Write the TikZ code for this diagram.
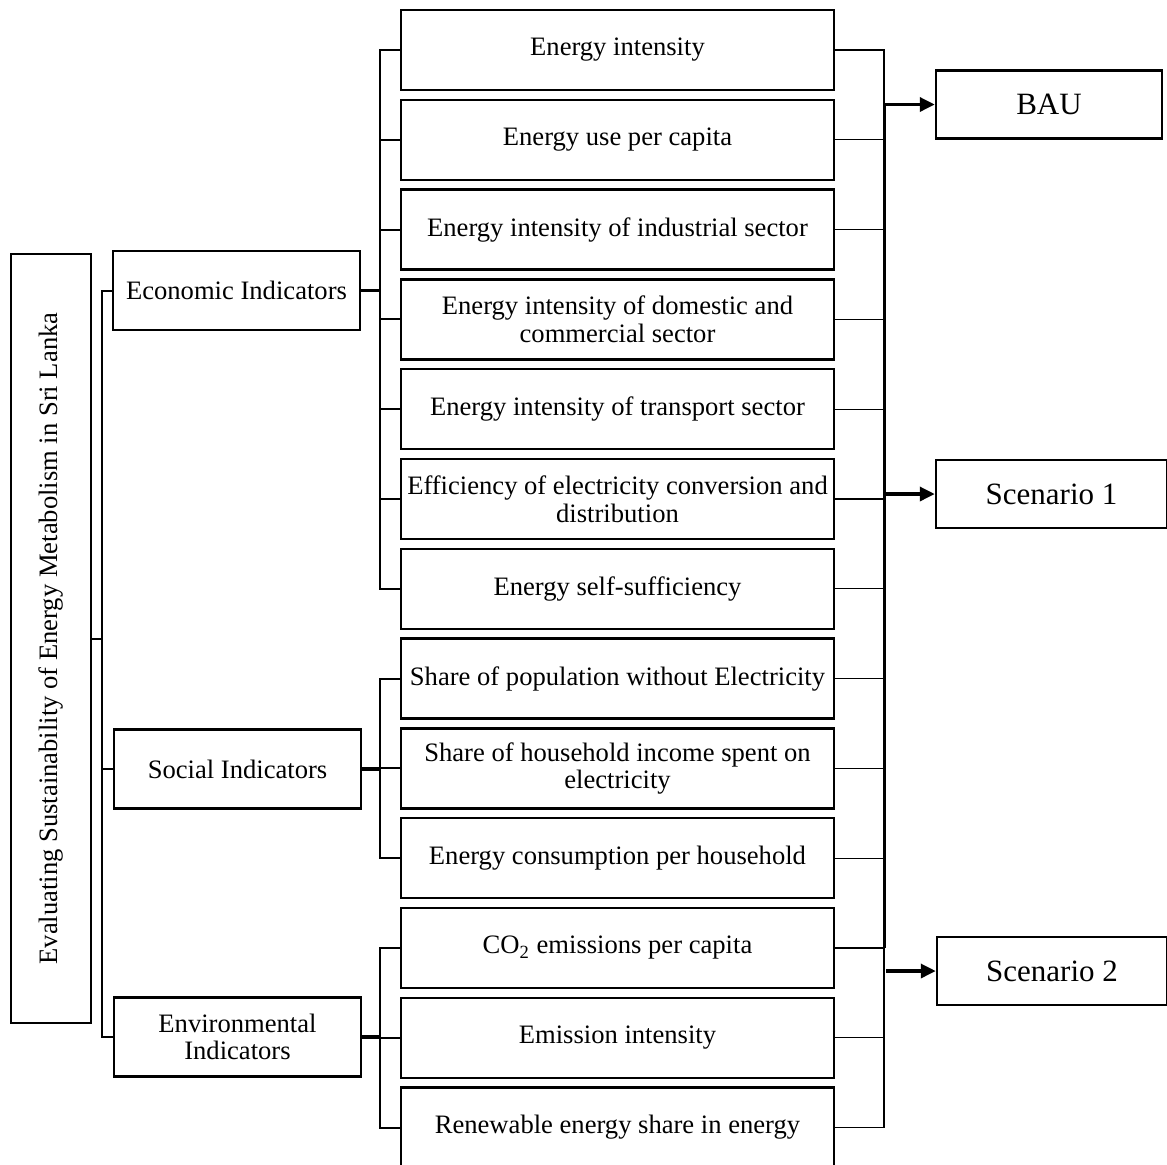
\documentclass[tikz,border=0pt]{standalone}
\usepackage{fontspec}
\setmainfont{Liberation Serif}
\usetikzlibrary{arrows.meta}
\begin{document}
\begin{tikzpicture}[x=0.5pt,y=-0.5pt,
  txt/.style={font=\fontsize{13.3}{13.8}\selectfont},
  ind/.style={draw, line width=1.25pt, minimum width=216.5pt, minimum height=40pt, inner sep=1pt, align=center, txt},
  grp/.style={draw, line width=1.25pt, minimum width=123.5pt, minimum height=39.5pt, inner sep=1pt, align=center, txt},
  scen/.style={draw, line width=1.25pt, minimum width=114.5pt, minimum height=34pt, inner sep=1pt, font=\fontsize{15.5}{16}\selectfont},
  conn/.style={line width=1pt},
  thin/.style={line width=0.55pt},
  thk/.style={line width=1.9pt},
  arr/.style={line width=1.7pt, -{Triangle[length=7.5pt,width=7pt]}}]
\useasboundingbox (0,0) rectangle (1167,1164);
\clip (0,0) rectangle (1167,1164);

% left title box
\node[draw, line width=1.25pt, minimum width=40pt, minimum height=384.5pt, inner sep=0pt, txt] (L) at (51,638.5)
  {\rotatebox{90}{Evaluating Sustainability of Energy Metabolism in Sri Lanka}};

% group boxes
\node[grp] (econ) at (236.5,290.5) {Economic Indicators};
\node[grp] (soc) at (237.5,769) {Social Indicators};
\node[grp] (env) at (237.5,1037) {Environmental\\Indicators};

% indicator boxes
\node[ind] (r1) at (617.5,50) {Energy intensity};
\node[ind] (r2) at (617.5,139.8) {Energy use per capita};
\node[ind] (r3) at (617.5,229.6) {Energy intensity of industrial sector};
\node[ind] (r4) at (617.5,319.4) {Energy intensity of domestic and\\commercial sector};
\node[ind] (r5) at (617.5,409.2) {Energy intensity of transport sector};
\node[ind] (r6) at (617.5,499) {Efficiency of electricity conversion and\\distribution};
\node[ind] (r7) at (617.5,588.8) {Energy self-sufficiency};
\node[ind] (r8) at (617.5,678.6) {Share of population without Electricity};
\node[ind] (r9) at (617.5,768.4) {Share of household income spent on\\electricity};
\node[ind] (r10) at (617.5,858.2) {Energy consumption per household};
\node[ind] (r11) at (617.5,948) {CO\textsubscript{2} emissions per capita};
\node[ind] (r12) at (617.5,1037.8) {Emission intensity};
\node[ind] (r13) at (617.5,1127.6) {Renewable energy share in energy};

% scenario boxes
\node[scen, minimum width=113pt] (bau) at (1049,104.5) {BAU};
\node[scen, minimum width=115.5pt] (s1) at (1051.5,494) {Scenario 1};
\node[scen, minimum width=115pt] (s2) at (1052,971) {Scenario 2};

% bracket coordinates
\coordinate (bx) at (102,0);
\coordinate (ex) at (380,0);
\coordinate (rx) at (884,0);

% left bracket
\draw[conn] (L.east |- 0,638.5) -- (bx |- 0,638.5);
\draw[conn] (econ.west) -- (econ.west -| bx) -- (env.west -| bx) -- (env.west);
\draw[conn] (soc.west) -- (soc.west -| bx);

% economic bracket
\draw[thk] (econ.east) -- (econ.east -| ex);
\draw[conn] (r1.west) -- (r1.west -| ex) -- (r7.west -| ex) -- (r7.west);
\foreach \i in {2,...,6} { \draw[conn] (r\i.west) -- (r\i.west -| ex); }

% social bracket
\draw[thk] (soc.east) -- (soc.east -| ex);
\draw[conn] (r8.west) -- (r8.west -| ex) -- (r10.west -| ex) -- (r10.west);
\draw[conn] (r9.west) -- (r9.west -| ex);

% environmental bracket
\draw[thk] (env.east) -- (env.east -| ex);
\draw[conn] (r11.west) -- (r11.west -| ex) -- (r13.west -| ex) -- (r13.west);
\draw[conn] (r12.west) -- (r12.west -| ex);

% right collector
\draw[conn] (r1.east) -- (r1.east -| rx) -- (rx |- bau.west);
\draw[line width=1.5pt] (rx |- bau.west) -- (rx |- r11.east);
\draw[thin] (rx |- r11.east) -- (r13.east -| rx) -- (r13.east);
\foreach \i in {2,...,12} { \draw[thin] (r\i.east) -- (r\i.east -| rx); }

% arrows
\draw[arr] (rx |- bau.west) -- (bau.west);
\draw[arr] (rx |- s1.west) -- (s1.west);
\draw[arr] ([xshift=1pt]rx |- s2.west) -- (s2.west);
\end{tikzpicture}
\end{document}
